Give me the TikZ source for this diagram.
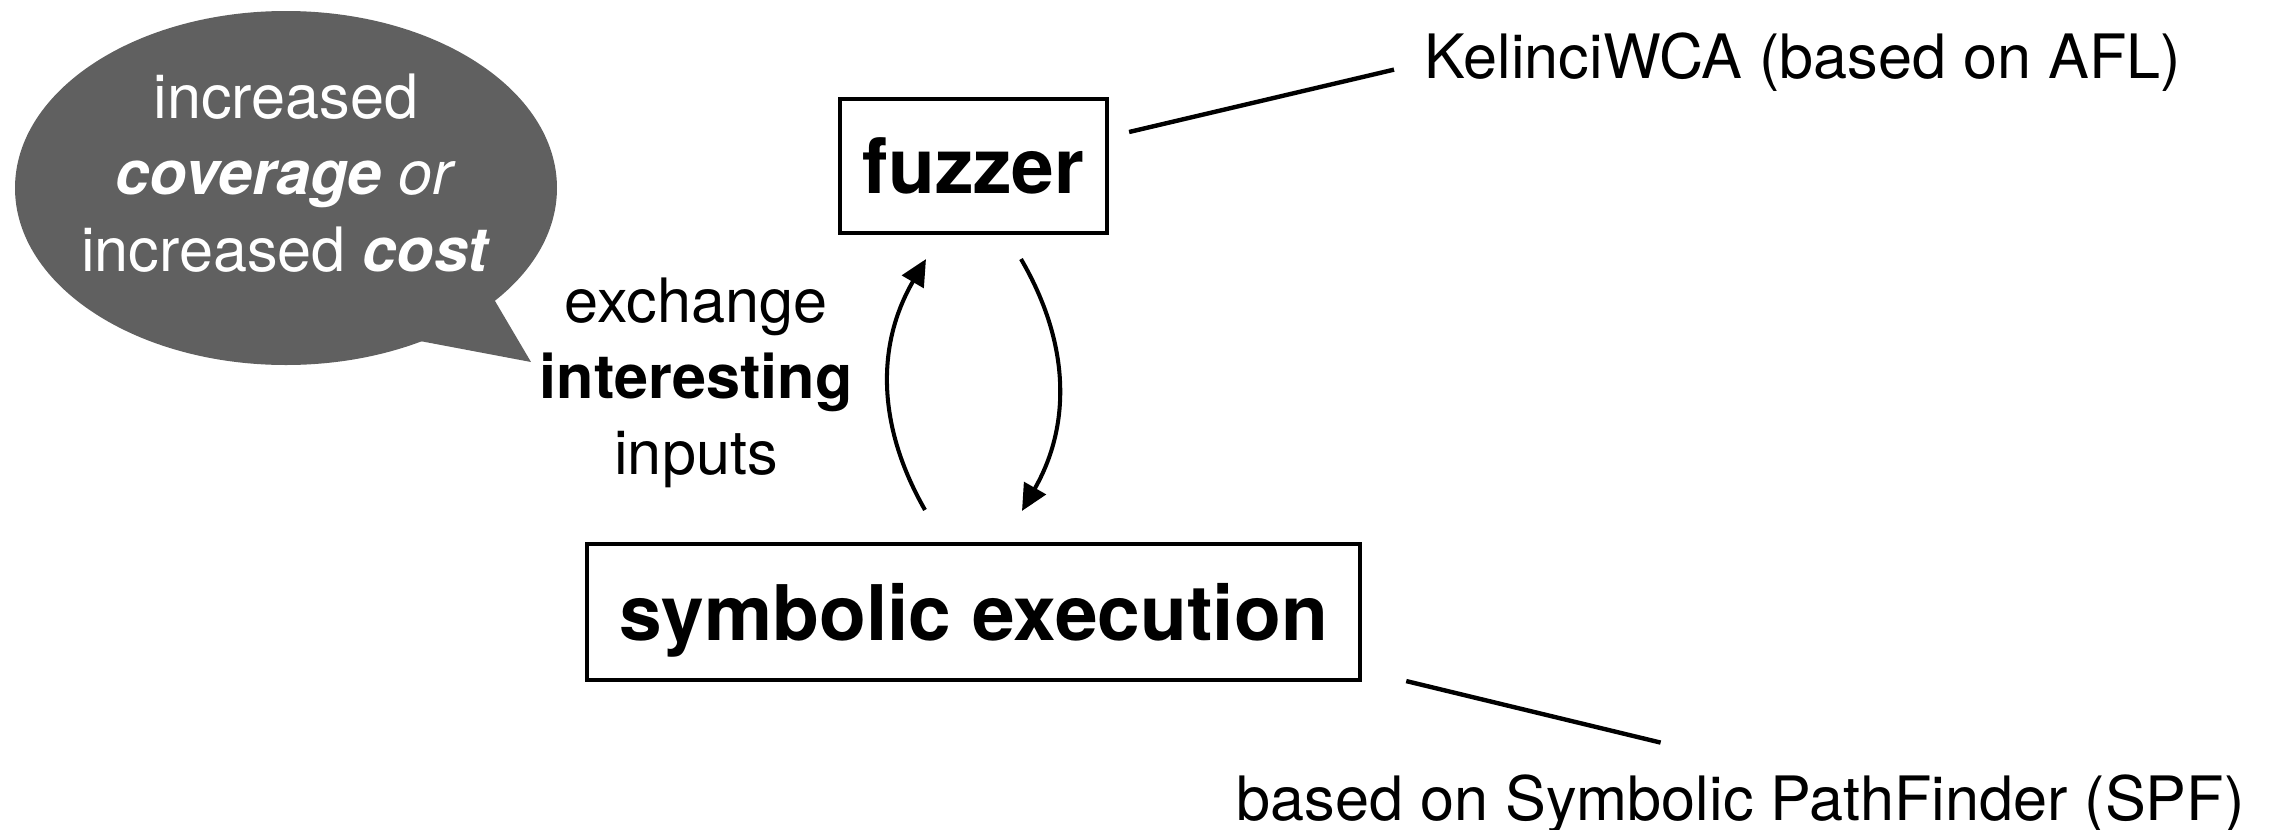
\documentclass[tikz,border=0pt]{standalone}
\usepackage{fontspec}
\setmainfont{TeX Gyre Heros}
\usetikzlibrary{arrows.meta}
\definecolor{bubblegray}{RGB}{96,96,96}
\begin{document}
\begin{tikzpicture}[x=0.01cm,y=-0.01cm,
  box/.style={draw=black,line width=1.15pt,inner sep=0pt,text depth=0pt,
    font=\fontsize{21.8}{26}\selectfont\bfseries},
  note/.style={inner sep=0pt,font=\fontsize{17.4}{21.8}\selectfont},
  flow/.style={line width=1.15pt,-{Triangle[length=7.5pt,width=7pt]}},
  leader/.style={line width=1.25pt}]
\useasboundingbox (0,0) rectangle (2274,830);

% speech bubble
\fill[bubblegray] (286,188) ellipse [x radius=271, y radius=177];
\fill[bubblegray] (485,284) -- (531,362) -- (404,338) -- cycle;
\node[note,text=white,align=center] (bubble) at (286,173)
  {increased\\\textbf{\textit{coverage}} \textit{or}\\increased \textbf{\textit{cost}}};

% boxes
\node[box,minimum width=2.67cm,minimum height=1.34cm] (fuzzer) at (973.5,166) {fuzzer};
\node[box,minimum width=7.73cm,minimum height=1.36cm] (symb) at (973.5,612) {symbolic execution};

% exchange label
\node[note,align=center,font=\fontsize{17.4}{21.6}\selectfont] (exch) at (696,383)
  {exchange\\\textbf{interesting}\\inputs};

% exchange arrows
\draw[flow] ([shift={(-48.5,-32)}]symb.north) to[bend left=30] ([shift={(-47.5,24)}]fuzzer.south);
\draw[flow] ([shift={(47.5,24)}]fuzzer.south) to[bend left=30] ([shift={(48.5,-31)}]symb.north);

% side notes
\node[note,anchor=base west] (kel) at (1424,78) {KelinciWCA (based on AFL)};
\node[note,anchor=base west] (spf) at (1236,820) {based on Symbolic PathFinder (SPF)};

\draw[leader] ([shift={(20,-34)}]fuzzer.east) -- ([shift={(-30,8)}]kel.west);
\draw[leader] ([shift={(44,-1)}]symb.south east) -- ([shift={(-80,-31)}]spf.north);
\end{tikzpicture}
\end{document}
